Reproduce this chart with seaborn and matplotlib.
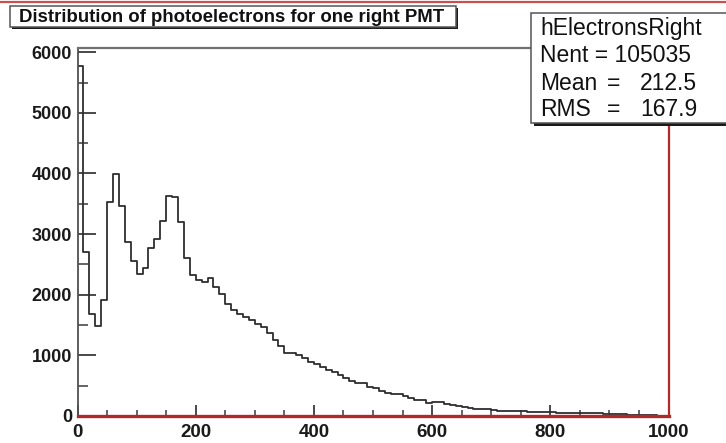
import matplotlib
matplotlib.use("Agg")
import matplotlib.pyplot as plt
import seaborn as sns
import numpy as np
import pandas as pd
from matplotlib.patches import Rectangle
from matplotlib.lines import Line2D
from matplotlib.ticker import MultipleLocator

# Histograma hElectronsRight: 100 bins de 0 a 1000
bin_lo = 0
bin_hi = 1000
n_bins = 100
counts = [
    5780, 2700, 1675, 1480, 1910, 3530, 3985, 3460, 2875, 2555,
    2335, 2445, 2775, 2925, 3215, 3625, 3615, 3200, 2600, 2320,
    2250, 2210, 2275, 2130, 2005, 1855, 1745, 1690, 1635, 1580,
    1525, 1465, 1375, 1260, 1150, 1045, 1040, 1005, 950, 895,
    853, 814, 759, 721, 676, 621, 583, 550, 550, 473,
    457, 418, 385, 363, 363, 330, 292, 264, 260, 209,
    226, 226, 200, 182, 165, 143, 127, 110, 110, 110,
    99, 88, 88, 88, 88, 88, 71, 71, 71, 71,
    71, 55, 55, 55, 55, 45, 45, 45, 45, 30,
    30, 30, 30, 12, 12, 12, 10, 10, 8, 8,
]

x_ticks = [0, 200, 400, 600, 800, 1000]
x_tick_labels = ["0", "200", "400", "600", "800", "1000"]
y_ticks = [0, 1000, 2000, 3000, 4000, 5000, 6000]
y_tick_labels = ["0", "1000", "2000", "3000", "4000", "5000", "6000"]

titulo = "Distribution of photoelectrons for one right PMT"
stats_nombre = "hElectronsRight"
stats_nent = "Nent = 105035"
stats_filas = [("Mean", "212.5"), ("RMS", "167.9")]

sns.set_style("white")
plt.rcParams['font.family'] = ['Liberation Sans', 'DejaVu Sans']

W, H = 726, 443
fig = plt.figure(figsize=(W / 100, H / 100), dpi=100)
fig.patch.set_facecolor("white")


def px(x, y):
    """Pixeles (desde arriba a la izquierda) a fraccion de figura."""
    return x / W, 1 - y / H


# Ejes en pixeles: x 77.5 -> 668.5, y 48 -> 416
ax = fig.add_axes([77.5 / W, 1 - 416 / H, (668.5 - 77.5) / W, (416 - 48) / H])

edges = np.linspace(bin_lo, bin_hi, n_bins + 1)
df = pd.DataFrame({"centro": (edges[:-1] + edges[1:]) / 2, "cuentas": counts})
sns.histplot(data=df, x="centro", weights="cuentas", bins=edges.tolist(), element="step",
             fill=False, color="#2e2e2e", linewidth=1.3, ax=ax)

ax.set_xlim(bin_lo, bin_hi)
ax.set_ylim(0, 1.05 * max(counts))
ax.set_xlabel("")
ax.set_ylabel("")

ax.set_xticks(x_ticks)
ax.set_xticklabels(x_tick_labels, fontsize=13.5, fontweight="bold", color="#1a1a1a")
ax.set_yticks(y_ticks)
ax.set_yticklabels(y_tick_labels, fontsize=13, fontweight="bold", color="#1a1a1a")
ax.xaxis.set_minor_locator(MultipleLocator(50))
ax.yaxis.set_minor_locator(MultipleLocator(500))

ax.tick_params(axis="y", which="major", direction="in", length=13, width=1.3,
               color="#3a3a3a", pad=4, left=True)
ax.tick_params(axis="y", which="minor", direction="in", length=7, width=1.1,
               color="#3a3a3a", left=True)
ax.tick_params(axis="x", which="major", direction="in", length=8, width=1.3,
               color="#3a3a3a", pad=6, bottom=True)
ax.tick_params(axis="x", which="minor", direction="in", length=4, width=1.1,
               color="#3a3a3a", bottom=True)

ax.spines["left"].set_color("#505050")
ax.spines["left"].set_linewidth(1.3)
ax.spines["top"].set_color("#707070")
ax.spines["top"].set_linewidth(1.6)
ax.spines["bottom"].set_color("#b02a2a")
ax.spines["bottom"].set_linewidth(2.4)
ax.spines["right"].set_color("#b02a2a")
ax.spines["right"].set_linewidth(1.6)
ax.grid(False)

# Linea roja del borde del canvas
x0, y0 = px(0, 2)
x1, _ = px(W, 2)
fig.add_artist(Line2D([x0, x1], [y0, y0], color="#c85050", linewidth=1.6))


def caja(xa, ya, xb, yb, sombra=3):
    """Caja estilo ROOT con sombra abajo a la derecha."""
    sx, sy = px(xa + sombra, yb + sombra)
    fig.add_artist(Rectangle((sx, sy), (xb - xa) / W, (yb - ya) / H,
                             facecolor="#1a1a1a", edgecolor="none", zorder=5))
    bx, by = px(xa, yb)
    fig.add_artist(Rectangle((bx, by), (xb - xa) / W, (yb - ya) / H,
                             facecolor="white", edgecolor="#555555",
                             linewidth=1.1, zorder=6))


# Titulo
caja(10, 6, 456, 27, sombra=2)
tx, ty = px(19, 17)
fig.text(tx, ty, titulo, fontsize=13.4, fontweight="bold", color="#111111",
         ha="left", va="center", zorder=7)

# Caja de estadisticas
fs_stats = 16.5
caja(531, 13, 740, 123, sombra=3)
tx, ty = px(540, 29)
fig.text(tx, ty, stats_nombre, fontsize=fs_stats, color="#111111", ha="left", va="center", zorder=7)
tx, ty = px(540, 56)
fig.text(tx, ty, stats_nent, fontsize=fs_stats, color="#111111", ha="left", va="center", zorder=7)
for i, (nombre, valor) in enumerate(stats_filas):
    yy = 83 + 26 * i
    tx, ty = px(540, yy)
    fig.text(tx, ty, nombre, fontsize=fs_stats, color="#111111", ha="left", va="center", zorder=7)
    tx, ty = px(607, yy)
    fig.text(tx, ty, "=", fontsize=fs_stats, color="#111111", ha="left", va="center", zorder=7)
    tx, ty = px(697, yy)
    fig.text(tx, ty, valor, fontsize=fs_stats, color="#111111", ha="right", va="center", zorder=7)

fig.savefig("out.png", dpi=100, facecolor="white")
plt.close(fig)
